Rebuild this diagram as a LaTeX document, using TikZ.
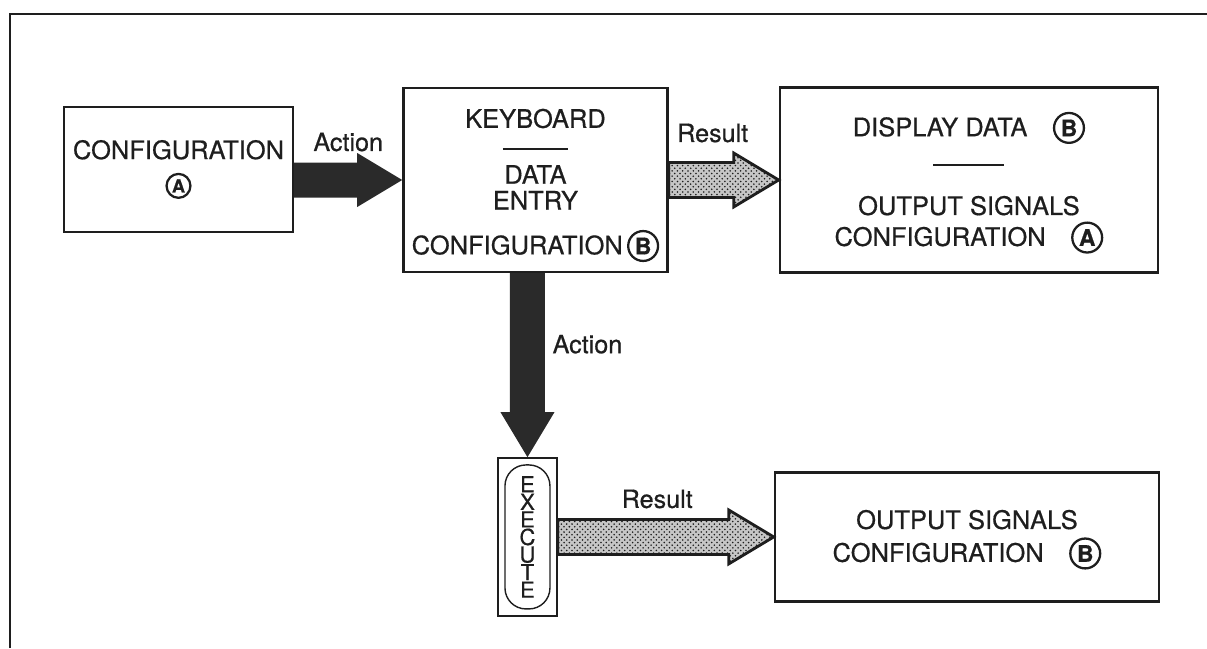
\documentclass[tikz,border=0pt]{standalone}
\usepackage{fontspec}
\setmainfont{TeX Gyre Heros}[FakeBold=0.6]
\usetikzlibrary{positioning, calc, fit, patterns}
\definecolor{inkgray}{RGB}{30, 30, 30}
\definecolor{arrowdark}{RGB}{42, 42, 42}

% circled letter
\newcommand{\ringed}[2][17pt]{\tikz[baseline=(ring.base)]\node[draw=inkgray,
    circle, anchor=center, line width=1.3pt, inner sep=0pt,
    minimum size=#1] (ring) {#2};}

% wide block arrow from #2 to #3
\newcommand{\fatarrow}[3]{%
    \coordinate (hb) at ($(#3)!0.9cm!(#2)$);
    \path[#1] ($(#2)!0.35cm!90:(#3)$) -- ($(hb)!0.35cm!90:(#3)$)
        -- ($(hb)!0.54cm!90:(#3)$) -- (#3) -- ($(hb)!0.54cm!-90:(#3)$)
        -- ($(hb)!0.35cm!-90:(#3)$) -- ($(#2)!0.35cm!-90:(#3)$) -- cycle;}

\begin{document}
\begin{tikzpicture}[
    box/.style={
        rectangle, draw=inkgray, line width=1.4pt,
        align=center, text=inkgray, font=\fontsize{14.5}{17.6}\selectfont
    },
    keycap/.style={
        rectangle, draw=inkgray, line width=0.8pt, rounded corners=0.42cm,
        minimum width=0.9cm, minimum height=2.88cm, inner sep=0pt,
        align=center, text=inkgray, font=\fontsize{12.5}{10}\selectfont
    },
    lbl/.style={font=\fontsize{14.3}{14}\selectfont, text=inkgray},
    actarrow/.style={fill=arrowdark},
    resarrow/.style={fill=gray!45,
        postaction={pattern=crosshatch dots, pattern color=inkgray},
        postaction={draw=inkgray, line width=1.6pt}},
    frame/.style={draw=inkgray, line width=0.8pt},
]
\useasboundingbox (0,0) rectangle (24.14,-12.96);

% Frame
\draw[frame] (0.2,-12.96) |- (24.14,-0.28);

% Top row
\node[box, minimum width=4.58cm, minimum height=2.5cm] (cfg) at (3.57,-3.39)
    {CONFIGURATION\\[1.4pt]\ringed[13.6pt]{\fontsize{10.3}{10}\selectfont\bfseries A}};
\node[box, minimum width=5.28cm, minimum height=3.68cm,
      right=2.16cm of cfg, yshift=-0.21cm] (kbd)
    {\rule{0pt}{17pt}KEYBOARD\\[-5.1pt]\rule{1.3cm}{1pt}\\[1.7pt]DATA\\[-2.9pt]ENTRY\\[7.9pt]%
     CONFIGURATION\,\ringed{\fontsize{13}{13}\selectfont\bfseries B}};
\node[box, minimum width=7.56cm, minimum height=3.7cm, right=2.2cm of kbd] (disp)
    {\rule{0pt}{17pt}DISPLAY DATA\quad\ringed{\fontsize{13}{13}\selectfont\bfseries B}\\[-0.6pt]%
     \rule{1.42cm}{1pt}\\[10.2pt]%
     OUTPUT SIGNALS\\CONFIGURATION\quad\ringed{\fontsize{13}{13}\selectfont\bfseries A}};

% Bottom row
\node[keycap, below=3.82cm of kbd, xshift=-0.16cm] (execin) {E\\X\\E\\C\\U\\T\\E};
\node[draw=inkgray, line width=1.2pt, fit=(execin), inner sep=0.12cm] (exec) {};
\node[box, minimum width=7.68cm, minimum height=2.58cm, right=4.32cm of exec] (out)
    {\rule{0pt}{14pt}OUTPUT SIGNALS\\[1.1pt]%
     CONFIGURATION\quad\ringed{\fontsize{13}{13}\selectfont\bfseries B}};

% Arrows
\coordinate (a1) at (cfg.east |- kbd.west);
\coordinate (a2) at (kbd.south -| exec.north);
\fatarrow{actarrow}{a1}{kbd.west}
\fatarrow{resarrow}{kbd.east}{disp.west}
\fatarrow{actarrow}{a2}{exec.north}
\fatarrow{resarrow}{exec.east}{out.west}

% Arrow labels
\node[lbl, yshift=0.76cm] (act1) at ($(a1)!0.5!(kbd.west)$) {Action};
\node[lbl, xshift=-0.22cm, yshift=0.94cm] (res1) at ($(kbd.east)!0.5!(disp.west)$) {Result};
\node[lbl, xshift=1.2cm, yshift=0.42cm] (act2) at ($(a2)!0.5!(exec.north)$) {Action};
\node[lbl, xshift=-0.17cm, yshift=0.76cm] (res2) at ($(exec.east)!0.5!(out.west)$) {Result};

\end{tikzpicture}
\end{document}
